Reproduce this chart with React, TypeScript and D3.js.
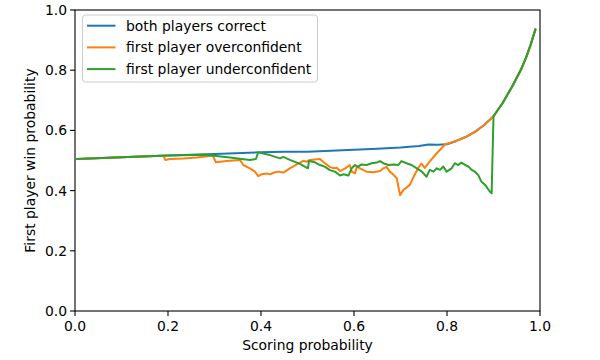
import React from 'react';
import * as d3 from 'd3';

type Pt = [number, number];

// shared high-scoring section where all three curves coincide
const tailCurve: Pt[] = [
  [0.82, 0.565], [0.84, 0.578], [0.86, 0.595], [0.88, 0.618], [0.9, 0.647],
  [0.92, 0.692], [0.94, 0.745], [0.96, 0.805], [0.97, 0.842], [0.98, 0.885], [0.99, 0.935],
];

const bothCorrect: Pt[] = [
  [0.005, 0.505], [0.1, 0.511], [0.2, 0.517], [0.3, 0.522], [0.4, 0.527], [0.45, 0.529],
  [0.5, 0.529], [0.55, 0.532], [0.6, 0.536], [0.65, 0.539], [0.7, 0.543], [0.74, 0.548],
  [0.76, 0.553], [0.78, 0.552], [0.8, 0.554],
  ...tailCurve,
];

const overconfident: Pt[] = [
  [0.005, 0.505], [0.1, 0.511], [0.19, 0.516], [0.194, 0.502], [0.204, 0.505], [0.233, 0.507],
  [0.262, 0.51], [0.29, 0.515], [0.297, 0.515], [0.303, 0.494], [0.326, 0.498], [0.355, 0.502],
  [0.362, 0.485], [0.376, 0.474], [0.387, 0.463], [0.394, 0.448], [0.401, 0.454], [0.412, 0.457],
  [0.419, 0.454], [0.43, 0.461], [0.437, 0.463], [0.448, 0.46], [0.462, 0.474], [0.477, 0.487],
  [0.491, 0.499], [0.498, 0.496], [0.505, 0.502], [0.527, 0.505], [0.538, 0.49], [0.548, 0.479],
  [0.556, 0.474], [0.563, 0.476], [0.57, 0.465], [0.581, 0.474], [0.591, 0.485], [0.595, 0.463],
  [0.602, 0.457], [0.606, 0.479], [0.613, 0.474], [0.627, 0.463], [0.642, 0.461], [0.656, 0.465],
  [0.663, 0.474], [0.67, 0.479], [0.677, 0.463], [0.684, 0.454], [0.692, 0.441], [0.699, 0.385],
  [0.706, 0.402], [0.713, 0.41], [0.72, 0.419], [0.728, 0.445], [0.738, 0.475], [0.745, 0.49],
  [0.752, 0.475], [0.763, 0.497], [0.778, 0.524], [0.796, 0.554],
  ...tailCurve,
];

const underconfident: Pt[] = [
  [0.005, 0.505], [0.1, 0.511], [0.2, 0.517], [0.28, 0.519], [0.333, 0.51], [0.376, 0.502],
  [0.389, 0.505], [0.394, 0.527], [0.419, 0.518], [0.441, 0.507], [0.448, 0.512], [0.462, 0.502],
  [0.484, 0.489], [0.495, 0.479], [0.501, 0.474], [0.503, 0.498], [0.516, 0.494], [0.527, 0.485],
  [0.538, 0.479], [0.548, 0.468], [0.559, 0.463], [0.57, 0.45], [0.577, 0.454], [0.588, 0.45],
  [0.595, 0.474], [0.602, 0.485], [0.609, 0.479], [0.616, 0.487], [0.627, 0.485], [0.638, 0.491],
  [0.649, 0.493], [0.656, 0.498], [0.663, 0.491], [0.674, 0.485], [0.685, 0.487], [0.695, 0.485],
  [0.702, 0.498], [0.713, 0.491], [0.724, 0.485], [0.735, 0.474], [0.746, 0.463], [0.756, 0.446],
  [0.763, 0.469], [0.771, 0.463], [0.778, 0.474], [0.785, 0.469], [0.792, 0.48], [0.799, 0.463],
  [0.81, 0.474], [0.817, 0.491], [0.824, 0.485], [0.831, 0.493], [0.839, 0.485], [0.846, 0.48],
  [0.853, 0.469], [0.86, 0.463], [0.867, 0.452], [0.874, 0.43], [0.882, 0.419], [0.892, 0.397],
  [0.896, 0.391], [0.9, 0.647],
  ...tailCurve.filter(d => d[0] > 0.9),
];

const seriesNames = ['both players correct', 'first player overconfident', 'first player underconfident'];
const seriesColors = ['#1f77b4', '#ff7f0e', '#2ca02c'];
const seriesData = [bothCorrect, overconfident, underconfident];
const tickValues = [0, 0.2, 0.4, 0.6, 0.8, 1.0];

const W = 600, H = 360;
const left = 75, right = 540, top = 10, bottom = 311;
const font = 'DejaVu Sans, sans-serif';
const fs = 13.9;

export default function App() {
  const x = d3.scaleLinear().domain([0, 1]).range([left, right]);
  const y = d3.scaleLinear().domain([0, 1]).range([bottom, top]);
  const line = d3.line<Pt>().x(d => x(d[0])).y(d => y(d[1]));

  return (
    <svg width={W} height={H} style={{ position: 'absolute', left: 0, top: 0, background: '#fff' }}
      fontFamily={font}>
      <rect x={0} y={0} width={W} height={H} fill="#fff" />
      {seriesData.map((d, i) => (
        <path key={i} d={line(d) || ''} fill="none" stroke={seriesColors[i]} strokeWidth={2}
          strokeLinejoin="round" strokeLinecap="square" />
      ))}
      <rect x={left} y={top} width={right - left} height={bottom - top} fill="none" stroke="#000" strokeWidth={1.1} />
      {tickValues.map(t => (
        <g key={'x' + t}>
          <line x1={x(t)} x2={x(t)} y1={bottom} y2={bottom + 4.9} stroke="#000" strokeWidth={1.1} />
          <text x={x(t)} y={bottom + 19.5} fontSize={fs} textAnchor="middle">{t.toFixed(1)}</text>
        </g>
      ))}
      {tickValues.map(t => (
        <g key={'y' + t}>
          <line x1={left} x2={left - 4.9} y1={y(t)} y2={y(t)} stroke="#000" strokeWidth={1.1} />
          <text x={left - 8} y={y(t) + 5} fontSize={fs} textAnchor="end">{t.toFixed(1)}</text>
        </g>
      ))}
      <text x={(left + right) / 2} y={350} fontSize={fs} textAnchor="middle">Scoring probability</text>
      <text transform={`translate(35,${(top + bottom) / 2}) rotate(-90)`} fontSize={fs} textAnchor="middle">
        First player win probability
      </text>
      <g>
        <rect x={82.5} y={15} width={235} height={67} rx={3} fill="#fff" fillOpacity={0.8} stroke="#cccccc" strokeWidth={1} />
        {seriesNames.map((n, i) => (
          <g key={n}>
            <line x1={87} x2={115.5} y1={25.7 + i * 21.7} y2={25.7 + i * 21.7} stroke={seriesColors[i]} strokeWidth={2} />
            <text x={126} y={25.7 + i * 21.7 + 5} fontSize={fs}>{n}</text>
          </g>
        ))}
      </g>
    </svg>
  );
}
